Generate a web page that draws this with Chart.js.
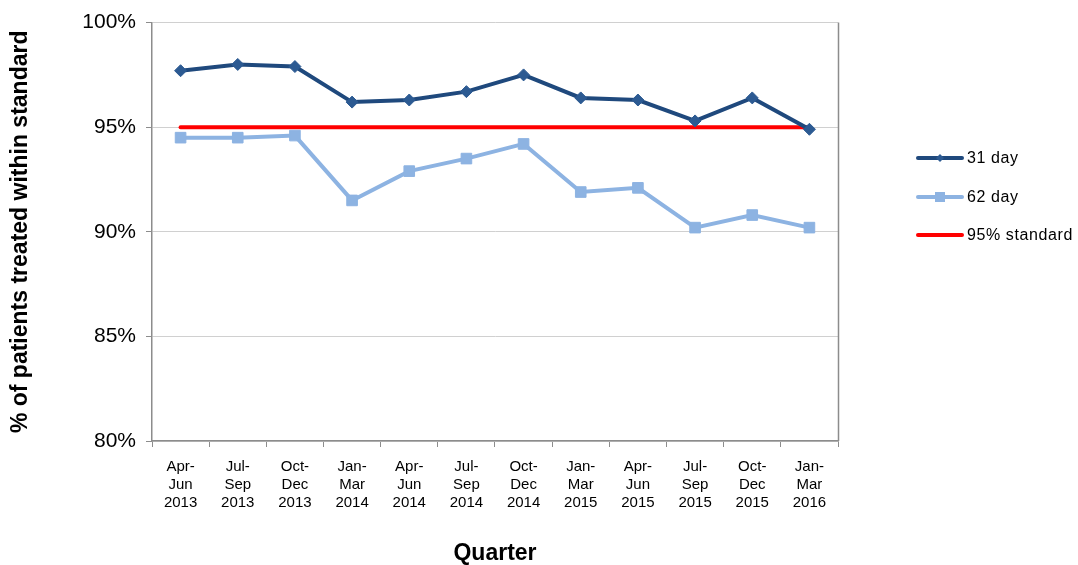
<!DOCTYPE html>
<html>
<head>
<meta charset="utf-8">
<script src="https://cdn.jsdelivr.net/npm/chart.js@4.4.1/dist/chart.umd.min.js"></script>
<style>
    html, body { margin: 0; padding: 0; background: #fff; }
    #wrap { width: 1078px; height: 565px; position: relative; }
</style>
</head>
<body>
<div id="wrap"><canvas id="chart"></canvas></div>
<script>
    // Quarters on the x axis (three lines each)
    const quarters = [
        ['Apr-', 'Jun', '2013'], ['Jul-', 'Sep', '2013'], ['Oct-', 'Dec', '2013'], ['Jan-', 'Mar', '2014'],
        ['Apr-', 'Jun', '2014'], ['Jul-', 'Sep', '2014'], ['Oct-', 'Dec', '2014'], ['Jan-', 'Mar', '2015'],
        ['Apr-', 'Jun', '2015'], ['Jul-', 'Sep', '2015'], ['Oct-', 'Dec', '2015'], ['Jan-', 'Mar', '2016']
    ];
    const day31 = [97.7, 98.0, 97.9, 96.2, 96.3, 96.7, 97.5, 96.4, 96.3, 95.3, 96.4, 94.9];
    const day62 = [94.5, 94.5, 94.6, 91.5, 92.9, 93.5, 94.2, 91.9, 92.1, 90.2, 90.8, 90.2];
    const standard = [95, 95, 95, 95, 95, 95, 95, 95, 95, 95, 95, 95];
    const yTicks = [80, 85, 90, 95, 100];

    const FONT = '"Liberation Sans", Arial, sans-serif';

    // right border of the plot area + custom legend (line with marker)
    const extras = {
        id: 'extras',
        afterDraw(chart) {
            const { ctx, chartArea } = chart;
            ctx.save();
            ctx.strokeStyle = '#8c8c8c';
            ctx.lineWidth = 1.5;
            ctx.beginPath();
            ctx.moveTo(chartArea.right + 0.5, chartArea.top);
            ctx.lineTo(chartArea.right + 0.5, chartArea.bottom);
            ctx.stroke();

            const lx = chartArea.right + 80;
            const rows = [158, 197, 235];
            chart.data.datasets.forEach((ds, i) => {
                const y = rows[i];
                ctx.strokeStyle = ds.borderColor;
                ctx.lineWidth = 4;
                ctx.lineCap = 'round';
                ctx.beginPath();
                ctx.moveTo(lx, y);
                ctx.lineTo(lx + 44, y);
                ctx.stroke();
                ctx.fillStyle = ds.pointBackgroundColor || ds.borderColor;
                if (ds.pointStyle === 'rectRot') {
                    ctx.beginPath();
                    ctx.moveTo(lx + 22, y - 4);
                    ctx.lineTo(lx + 26, y);
                    ctx.lineTo(lx + 22, y + 4);
                    ctx.lineTo(lx + 18, y);
                    ctx.closePath();
                    ctx.fill();
                } else if (ds.pointStyle === 'rect') {
                    ctx.fillRect(lx + 17, y - 5, 10, 10);
                }
                ctx.fillStyle = '#000';
                ctx.font = '16px ' + FONT;
                ctx.letterSpacing = '0.6px';
                ctx.textBaseline = 'middle';
                ctx.fillText(ds.label, lx + 49, y + 1);
            });
            ctx.restore();
        }
    };

    new Chart(document.getElementById('chart'), {
        type: 'line',
        data: {
            labels: quarters,
            datasets: [{
                label: '31 day',
                data: day31,
                borderColor: '#1f497d',
                pointBackgroundColor: '#2c5a92',
                pointBorderColor: '#2c5a92',
                borderWidth: 4,
                pointStyle: 'rectRot',
                pointRadius: 6,
                pointBorderWidth: 1,
                tension: 0
            }, {
                label: '62 day',
                data: day62,
                borderColor: '#8db3e2',
                pointBackgroundColor: '#8db3e2',
                pointBorderColor: '#8db3e2',
                borderWidth: 4,
                pointStyle: 'rect',
                pointRadius: 7.5,
                pointBorderWidth: 1,
                tension: 0
            }, {
                label: '95% standard',
                data: standard,
                borderColor: '#ff0000',
                borderWidth: 4,
                borderCapStyle: 'round',
                pointRadius: 0,
                tension: 0
            }]
        },
        options: {
            responsive: true,
            maintainAspectRatio: false,
            animation: false,
            layout: { padding: { top: 22, right: 240, left: 0, bottom: 0 } },
            plugins: {
                legend: { display: false },
                tooltip: { enabled: false }
            },
            scales: {
                x: {
                    offset: true,
                    grid: { display: true, offset: true, drawOnChartArea: false, drawTicks: true, tickLength: 6, color: '#8c8c8c' },
                    border: { color: '#8c8c8c', width: 1.5 },
                    ticks: { color: '#000', font: { family: FONT, size: 15, lineHeight: 1.2 }, maxRotation: 0, autoSkip: false, padding: 11 },
                    title: { display: true, text: 'Quarter', color: '#000', font: { family: FONT, size: 23, weight: 'bold', lineHeight: 1 }, padding: { top: 0, bottom: 0 } },
                    afterFit(scale) { scale.height = 124; }
                },
                y: {
                    min: 80,
                    max: 100,
                    afterBuildTicks(scale) { scale.ticks = yTicks.map(v => ({ value: v })); },
                    grid: { color: '#d0d0d0', lineWidth: 1, drawTicks: true, tickLength: 6, tickColor: '#8c8c8c' },
                    border: { color: '#8c8c8c', width: 1.5 },
                    ticks: { color: '#000', font: { family: FONT, size: 21 }, padding: 10, callback: v => v + '%' },
                    title: { display: true, text: '% of patients treated within standard', color: '#000', font: { family: FONT, size: 23, weight: 'bold', lineHeight: 1 }, padding: { top: 9, bottom: 0 } },
                    afterFit(scale) { scale.width = 152; }
                }
            }
        },
        plugins: [extras]
    });
</script>
</body>
</html>
